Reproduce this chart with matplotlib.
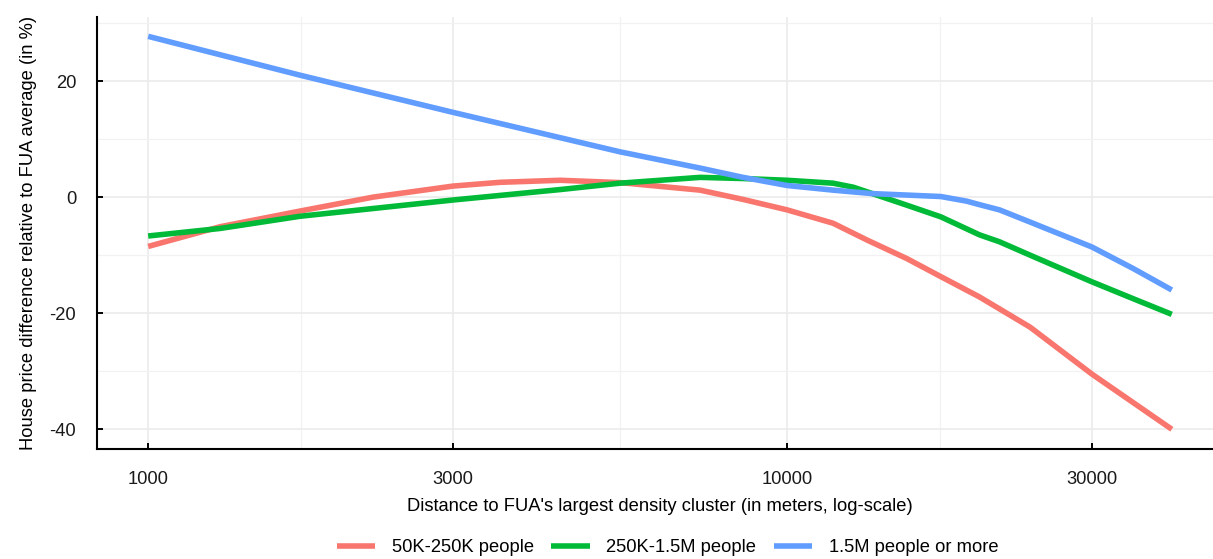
import numpy as np
import matplotlib
matplotlib.use("Agg")
import matplotlib.pyplot as plt
from matplotlib import font_manager
from matplotlib.ticker import FixedLocator, NullFormatter

# ---------------- data ----------------
series_names = ["50K-250K people", "250K-1.5M people", "1.5M people or more"]
series_colors = ["#F8766D", "#00BA38", "#619CFF"]

small_x = [1000, 1296, 1729, 2250, 3000, 3555, 4414, 5476, 7308, 8533, 10000,
           11800, 13340, 15400, 17400, 20000, 24000, 30000, 34800, 40000]
small_y = [-8.5, -5.1, -2.4, 0.0, 1.9, 2.55, 2.9, 2.5, 1.2, -0.4, -2.2,
           -4.5, -7.4, -10.6, -13.7, -17.2, -22.4, -30.5, -35.4, -40.0]

mid_x = [1000, 1296, 1729, 3000, 4414, 5476, 7308, 8533, 10000,
         11800, 12700, 13600, 15400, 17400, 20000, 21500, 24000, 30000, 34800, 40000]
mid_y = [-6.7, -5.4, -3.3, -0.5, 1.3, 2.4, 3.4, 3.2, 2.9,
         2.4, 1.7, 0.6, -1.4, -3.4, -6.5, -7.7, -10.0, -14.6, -17.5, -20.2]

large_x = [1000, 1729, 3000, 5476, 7308, 8533, 10000, 11800, 13600, 15400,
           17400, 19100, 20000, 21500, 24000, 30000, 34800, 40000]
large_y = [27.7, 21.0, 14.6, 7.8, 5.0, 3.4, 2.0, 1.2, 0.6, 0.35,
           0.1, -0.7, -1.3, -2.2, -4.3, -8.6, -12.3, -16.0]

x_ticks = [1000, 3000, 10000, 30000]
x_tick_labels = ["1000", "3000", "10000", "30000"]
x_minor = [1732, 5477, 17321]
y_ticks = [-40, -20, 0, 20]
y_tick_labels = ["-40", "-20", "0", "20"]
y_minor = [-30, -10, 10, 30]

xlabel = "Distance to FUA's largest density cluster (in meters, log-scale)"
ylabel = "House price difference relative to FUA average (in %)"

# ---------------- fonts ----------------
installed = {f.name for f in font_manager.fontManager.ttflist}
if "Liberation Sans Narrow" in installed:
    fam = ["Liberation Sans Narrow", "Liberation Sans", "DejaVu Sans"]
    fs = 16
else:
    fam = ["Liberation Sans", "DejaVu Sans"]
    fs = 13.2
plt.rcParams["font.family"] = fam
plt.rcParams["axes.unicode_minus"] = False

# ---------------- figure ----------------
W, H = 1213, 559
fig = plt.figure(figsize=(W / 100, H / 100), dpi=100)
ax = fig.add_axes([97 / W, 1 - 449 / H, 1126 / W, (449 - 16.6) / H])

xs = [small_x, mid_x, large_x]
ys = [small_y, mid_y, large_y]
for x, y, c, n in zip(xs, ys, series_colors, series_names):
    ax.plot(x, y, color=c, lw=4.0, label=n, solid_capstyle="butt",
            solid_joinstyle="round", zorder=3)

ax.set_xscale("log")
ax.set_xlim(10 ** 2.9199, 10 ** 4.6822)
ax.set_ylim(-43.4, 31.1)

ax.xaxis.set_major_locator(FixedLocator(x_ticks))
ax.set_xticklabels(x_tick_labels)
ax.xaxis.set_minor_locator(FixedLocator(x_minor))
ax.xaxis.set_minor_formatter(NullFormatter())
ax.yaxis.set_major_locator(FixedLocator(y_ticks))
ax.set_yticklabels(y_tick_labels)
ax.yaxis.set_minor_locator(FixedLocator(y_minor))

ax.grid(True, which="major", color="#EBEBEB", lw=1.2, zorder=0)
ax.grid(True, which="minor", color="#F2F2F2", lw=0.9, zorder=0)
ax.set_axisbelow(True)

for s in ["top", "right"]:
    ax.spines[s].set_visible(False)
for s in ["left", "bottom"]:
    ax.spines[s].set_linewidth(1.5)
    ax.spines[s].set_color("black")

ax.tick_params(which="major", direction="in", length=4.5, width=1.4,
               color="black", labelsize=fs, labelcolor="#1a1a1a")
ax.tick_params(axis="x", which="major", pad=16)
ax.tick_params(axis="y", which="major", pad=15)
ax.tick_params(which="minor", length=0)

ax.set_xlabel(xlabel, fontsize=fs, labelpad=7, color="black")
ax.set_ylabel(ylabel, fontsize=fs, labelpad=9, color="black")

fig.legend(loc="center", bbox_to_anchor=(667.5 / W, 1 - 548 / H), ncol=3,
           frameon=False, fontsize=fs, handlelength=2.1, handletextpad=0.9,
           columnspacing=0.95, borderpad=0)

fig.savefig("out.png", dpi=100)
